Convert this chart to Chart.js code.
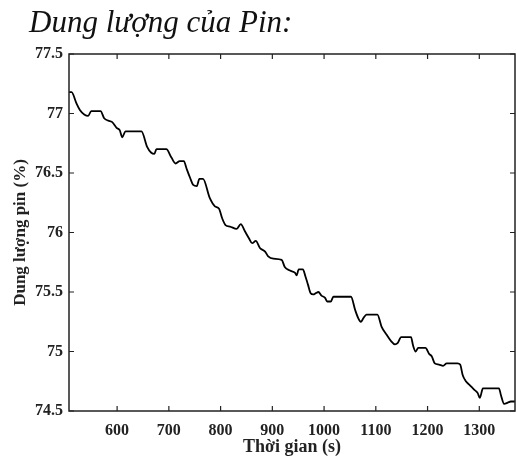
<!DOCTYPE html>
<html>
<head>
<meta charset="utf-8">
<script src="https://cdn.jsdelivr.net/npm/chart.js@4.4.1/dist/chart.umd.min.js"></script>
<style>
  html, body { margin: 0; padding: 0; background: #fff; }
  #wrap { position: relative; width: 516px; height: 459px; }
</style>
</head>
<body>
<div id="wrap"><canvas id="pinChart" width="516" height="459"></canvas></div>
<script>
// battery capacity log (time in seconds, capacity in %)
const timeSec = [507, 512, 521, 528, 537, 544, 550, 568, 575, 583, 590, 599, 605, 610, 616, 647, 658, 666, 672, 676,
  695, 705, 713, 721, 729, 734, 741, 747, 754, 759, 766, 779, 789, 797, 803, 810, 818, 831, 839, 847,
  855, 861, 868, 876, 886, 892, 902, 918, 924, 934, 944, 947, 951, 959, 964, 969, 974, 979, 984, 989,
  995, 1002, 1006, 1013, 1018, 1052, 1060, 1066, 1071, 1076, 1082, 1103, 1111, 1121, 1129, 1137, 1142, 1149, 1168, 1172,
  1177, 1182, 1196, 1203, 1208, 1214, 1222, 1230, 1237, 1258, 1263, 1268, 1274, 1281, 1290, 1297, 1301, 1307, 1338, 1342,
  1348, 1355, 1361, 1369];
const capacity = [77.18, 77.18, 77.09, 77.03, 76.99, 76.98, 77.02, 77.02, 76.96, 76.94, 76.93, 76.88, 76.86, 76.80, 76.85, 76.85, 76.72, 76.67, 76.66, 76.70,
  76.70, 76.63, 76.58, 76.60, 76.60, 76.54, 76.46, 76.40, 76.39, 76.45, 76.45, 76.29, 76.22, 76.20, 76.12, 76.06, 76.05, 76.03, 76.07, 76.01,
  75.95, 75.91, 75.93, 75.87, 75.84, 75.80, 75.78, 75.77, 75.71, 75.68, 75.66, 75.64, 75.69, 75.69, 75.63, 75.56, 75.49, 75.48, 75.49, 75.50,
  75.47, 75.45, 75.42, 75.42, 75.46, 75.46, 75.35, 75.28, 75.25, 75.28, 75.31, 75.31, 75.21, 75.14, 75.09, 75.06, 75.07, 75.12, 75.12, 75.05,
  75.00, 75.03, 75.03, 74.98, 74.96, 74.90, 74.89, 74.88, 74.90, 74.90, 74.89, 74.80, 74.75, 74.72, 74.68, 74.65, 74.61, 74.69, 74.69, 74.63,
  74.56, 74.57, 74.58, 74.58];

const xTicks = [600, 700, 800, 900, 1000, 1100, 1200, 1300];
const yTicks = [74.5, 75, 75.5, 76, 76.5, 77, 77.5];

const chartTitle = 'Dung lượng của Pin:';
const xTitle = 'Thời gian (s)';
const yTitle = 'Dung lượng pin (%)';

const ink = '#222';
const serif = "'Liberation Serif', 'Times New Roman', serif";

// box around the plot plus inward ticks on all four sides, and the page title
const boxPlugin = {
  id: 'boxTicks',
  afterDraw(chart) {
    const { ctx, chartArea: a, scales: { x, y } } = chart;
    const len = 5;
    ctx.save();
    ctx.strokeStyle = ink;
    ctx.lineWidth = 1.5;
    ctx.strokeRect(a.left, a.top, a.right - a.left, a.bottom - a.top);
    ctx.lineWidth = 1.2;
    ctx.beginPath();
    xTicks.forEach(v => {
      const px = x.getPixelForValue(v);
      ctx.moveTo(px, a.bottom); ctx.lineTo(px, a.bottom - len);
      ctx.moveTo(px, a.top); ctx.lineTo(px, a.top + len);
    });
    yTicks.forEach(v => {
      const py = y.getPixelForValue(v);
      ctx.moveTo(a.left, py); ctx.lineTo(a.left + len, py);
      ctx.moveTo(a.right, py); ctx.lineTo(a.right - len, py);
    });
    ctx.stroke();

    ctx.fillStyle = '#111';
    ctx.font = 'italic 31px ' + serif;
    ctx.textBaseline = 'alphabetic';
    ctx.fillText(chartTitle, 29, 32);
    ctx.restore();
  }
};

new Chart(document.getElementById('pinChart'), {
  type: 'line',
  data: {
    labels: timeSec,
    datasets: [{
      data: timeSec.map((t, i) => ({ x: t, y: capacity[i] })),
      borderColor: '#000',
      borderWidth: 1.8,
      pointRadius: 0,
      cubicInterpolationMode: 'monotone',
      fill: false
    }]
  },
  options: {
    responsive: false,
    animation: false,
    devicePixelRatio: 1,
    layout: { padding: { top: 54, right: 1, left: 0, bottom: 0 } },
    plugins: { legend: { display: false }, tooltip: { enabled: false } },
    scales: {
      x: {
        type: 'linear',
        min: 507,
        max: 1369,
        afterBuildTicks: s => { s.ticks = xTicks.map(v => ({ value: v })); },
        afterFit: s => { s.height = 48; },
        grid: { display: false, drawTicks: false },
        border: { display: false },
        ticks: { color: ink, padding: 10, maxRotation: 0, callback: v => String(v), font: { family: serif, size: 16, weight: 'bold' } },
        title: { display: true, text: xTitle, color: ink, padding: { top: 0, bottom: 1 }, font: { family: serif, size: 18, weight: 'bold' } }
      },
      y: {
        min: 74.5,
        max: 77.5,
        afterBuildTicks: s => { s.ticks = yTicks.map(v => ({ value: v })); },
        afterFit: s => { s.width = 69; },
        grid: { display: false, drawTicks: false },
        border: { display: false },
        ticks: { color: ink, padding: 6, callback: v => String(v), font: { family: serif, size: 16, weight: 'bold' } },
        title: { display: true, text: yTitle, color: ink, padding: { top: 10, bottom: 0 }, font: { family: serif, size: 17, weight: 'bold' } }
      }
    }
  },
  plugins: [boxPlugin]
});
</script>
</body>
</html>
